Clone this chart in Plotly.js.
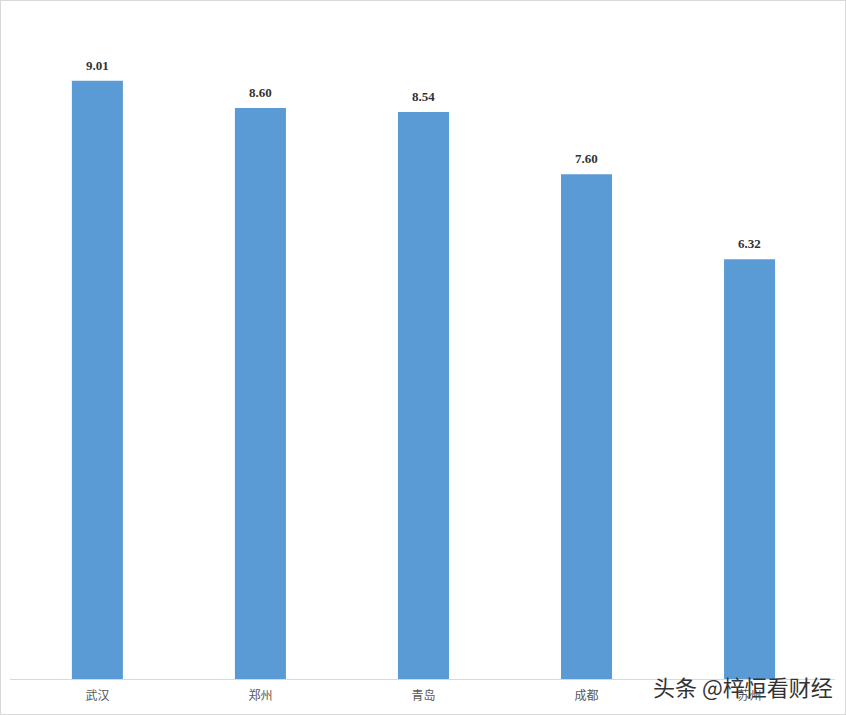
<!DOCTYPE html>
<html>
<head>
<meta charset="utf-8">
<script src="https://cdn.plot.ly/plotly-3.0.1.min.js"></script>
<style>
html,body{margin:0;padding:0;background:#fff;}
#wrap{position:relative;width:846px;height:715px;}
#chart{width:846px;height:715px;}
#frame{position:absolute;left:0;top:0;width:844px;height:713px;border:1px solid #d9d9d9;pointer-events:none;}
</style>
</head>
<body>
<div id="wrap"><div id="chart"></div><div id="frame"></div></div>
<script>
const categories = ['武汉', '郑州', '青岛', '成都', '苏州'];
const values = [9.01, 8.60, 8.54, 7.60, 6.32];
const valueLabels = ['9.01', '8.60', '8.54', '7.60', '6.32'];

const trace = {
  type: 'bar',
  x: categories,
  y: values,
  width: 0.313,
  marker: {color: '#5B9BD5'},
  hoverinfo: 'skip'
};

const annotations = categories.map((c, i) => ({
  x: c, y: values[i], xref: 'x', yref: 'y',
  text: '<b>' + valueLabels[i] + '</b>',
  showarrow: false, yanchor: 'bottom', yshift: 6,
  font: {family: 'Liberation Serif, Times New Roman, serif', size: 13, color: '#333333'}
}));
annotations.push({
  xref: 'paper', yref: 'paper', x: 1.0, y: 0, xanchor: 'right', yanchor: 'middle',
  xshift: 0, yshift: -7,
  text: '头条 @梓恒看财经', showarrow: false,
  font: {family: 'Noto Sans CJK SC, sans-serif', size: 22, color: '#333333'}
});

const layout = {
  width: 846, height: 715,
  margin: {l: 10, r: 11, t: 15, b: 36},
  paper_bgcolor: '#ffffff', plot_bgcolor: '#ffffff',
  showlegend: false,
  xaxis: {
    type: 'category', range: [-0.536, 4.524],
    showline: true, linecolor: '#d9d9d9', linewidth: 1,
    ticks: '', showgrid: false, zeroline: false,
    tickfont: {family: 'Noto Sans CJK SC, sans-serif', size: 12, color: '#595959'},
    ticklabelstandoff: 6
  },
  yaxis: {
    range: [0, 10], visible: false, showgrid: false, zeroline: false
  },
  annotations: annotations
};

Plotly.newPlot('chart', [trace], layout, {displayModeBar: false, staticPlot: true});
</script>
</body>
</html>
